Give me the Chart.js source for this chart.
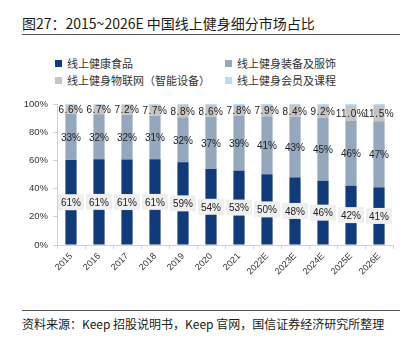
<!DOCTYPE html>
<html>
<head>
<meta charset="utf-8">
<title>中国线上健身细分市场占比</title>
<script src="https://cdn.jsdelivr.net/npm/chart.js"></script>
<style>
  body { margin: 0; background: #fff; font-family: "Noto Sans CJK SC", sans-serif; }
  #wrap { position: relative; width: 417px; height: 344px; overflow: hidden; }
  .title { position: absolute; left: 22px; top: 13px; font-size: 14px; color: #1a1a1a; white-space: nowrap; }
  .rule { position: absolute; left: 22px; width: 378px; height: 1px; background: #555; }
  .src { position: absolute; left: 22px; top: 315px; font-size: 12px; color: #1a1a1a; white-space: nowrap; }
  .lg { position: absolute; font-size: 11px; color: #333; white-space: nowrap; line-height: 14px; }
  .lg i { position: absolute; left: -12px; top: 4px; width: 7px; height: 7px; }
  #box { position: absolute; left: 0; top: 90px; width: 417px; height: 215px; }
</style>
</head>
<body>
<div id="wrap">
  <div class="title">图27：2015~2026E 中国线上健身细分市场占比</div>
  <div class="rule" style="top:34px"></div>
  <div id="legend"></div>
  <div id="box"><canvas id="myChart"></canvas></div>
  <div class="rule" style="top:310px"></div>
  <div class="src">资料来源：Keep 招股说明书，Keep 官网，国信证券经济研究所整理</div>
</div>
<script>
// data (percent shares)
var years = ['2015','2016','2017','2018','2019','2020','2021','2022E','2023E','2024E','2025E','2026E'];
var food = [61, 61, 61, 61, 59, 54, 53, 50, 48, 46, 42, 41];
var gear = [33, 32, 32, 31, 32, 37, 39, 41, 43, 45, 46, 47];
var iot = [6.6, 6.7, 7.2, 7.7, 8.8, 8.6, 7.8, 7.9, 8.4, 9.2, 11.0, 11.5];
var member = [0.5, 0.6, 0.5, 0.6, 0.7, 0.6, 0.7, 0.8, 0.7, 0.8, 0.9, 0.8]; // thin sliver, no labels
var yTicks = [0, 10, 20, 30, 40, 50, 60, 70, 80, 90, 100];

var names = ['线上健康食品', '线上健身装备及服饰', '线上健身物联网（智能设备）', '线上健身会员及课程'];
var colors = ['#113a78', '#94a7bd', '#c4c4c4', '#b8dcf8'];
var raw = [food, gear, iot, member];

// 100% stacked: scale each year to sum 100
var shares = raw.map(function(arr) {
    return arr.map(function(v, i) {
        var tot = food[i] + gear[i] + iot[i] + member[i];
        return v / tot * 100;
    });
});

// legend, two columns
var lgPos = [[67, 56], [237, 56], [67, 73], [237, 73]];
var lg = document.getElementById('legend');
names.forEach(function(n, k) {
    var d = document.createElement('div');
    d.className = 'lg';
    d.style.left = lgPos[k][0] + 'px';
    d.style.top = lgPos[k][1] + 'px';
    d.innerHTML = '<i style="background:' + colors[k] + '"></i>' + n;
    lg.appendChild(d);
});

// labels in the middle of each segment
var segLabels = {
    id: 'segLabels',
    afterDatasetsDraw: function(chart) {
        var ctx = chart.ctx;
        ctx.save();
        ctx.font = '10px "Liberation Sans", Arial, sans-serif';
        ctx.textAlign = 'center';
        ctx.textBaseline = 'middle';
        for (var d = 0; d < 3; d++) {
            var meta = chart.getDatasetMeta(d);
            meta.data.forEach(function(el, i) {
                var v = raw[d][i];
                var txt = (d == 2 ? v.toFixed(1) : Math.round(v)) + '%';
                var y = (el.y + el.base) / 2;
                if (d == 0) {
                    ctx.fillStyle = '#efefef';
                    ctx.fillRect(el.x - 13, y - 8, 26, 16);
                }
                ctx.fillStyle = '#222';
                ctx.letterSpacing = d == 2 ? '0.6px' : '0px';
                ctx.fillText(txt, el.x, y + 1);
            });
        }
        ctx.restore();
    }
};

var datasets = names.map(function(n, k) {
    return {
        label: n,
        data: shares[k],
        backgroundColor: colors[k],
        borderWidth: 0,
        barPercentage: 0.4,
        categoryPercentage: 1
    };
});

var myChart = new Chart(document.getElementById('myChart'), {
    type: 'bar',
    data: { labels: years, datasets: datasets },
    plugins: [segLabels],
    options: {
        responsive: true,
        maintainAspectRatio: false,
        animation: false,
        layout: { padding: { left: 13, right: 24, top: 14, bottom: 15 } },
        plugins: { legend: { display: false }, tooltip: { enabled: false } },
        scales: {
            x: {
                stacked: true,
                grid: { drawOnChartArea: false, offset: true, color: '#d0d0d0', tickLength: 4 },
                border: { color: '#d0d0d0' },
                ticks: {
                    maxRotation: 45, minRotation: 45, padding: 2,
                    color: '#333',
                    font: { family: '"Liberation Sans", Arial, sans-serif', size: 9 }
                },
                afterFit: function(s) { s.height = 45; }
            },
            y: {
                stacked: true,
                min: 0, max: 100,
                afterBuildTicks: function(s) {
                    s.ticks = yTicks.map(function(v) { return { value: v }; });
                },
                grid: { drawOnChartArea: false, color: '#d0d0d0', tickLength: 4 },
                border: { color: '#d0d0d0' },
                ticks: {
                    padding: 5,
                    color: '#333',
                    font: { family: '"Liberation Sans", Arial, sans-serif', size: 9.5 },
                    callback: function(v) { return v + '%'; }
                },
                afterFit: function(s) { s.width = 44; }
            }
        }
    }
});
</script>
</body>
</html>
